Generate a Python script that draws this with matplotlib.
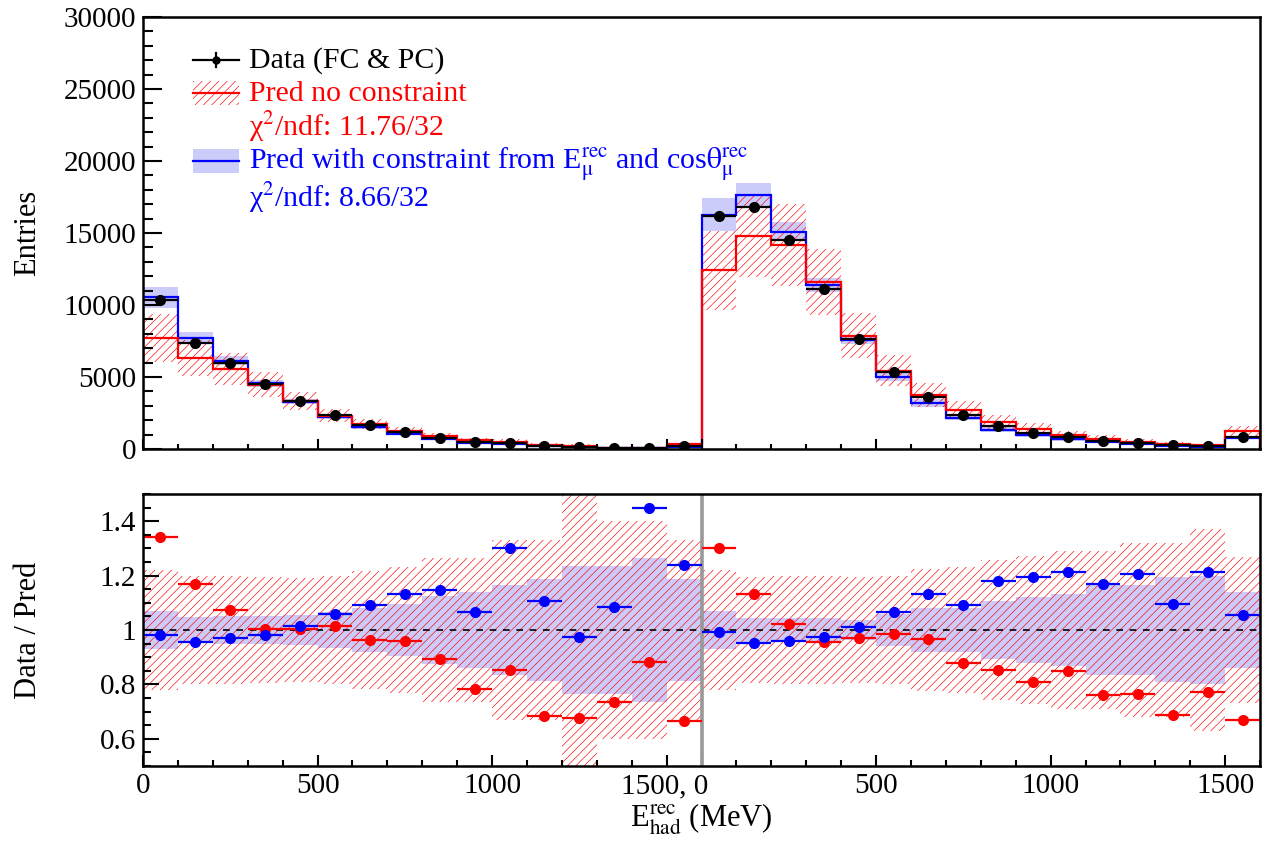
import numpy as np
import matplotlib
matplotlib.use("Agg")
from matplotlib import pyplot as plt
from matplotlib.patches import Rectangle
from matplotlib.lines import Line2D
from matplotlib.ticker import MultipleLocator, FixedLocator, FixedFormatter
import matplotlib.transforms as mtransforms

plt.rcParams['font.family'] = ['Liberation Serif', 'DejaVu Serif']
plt.rcParams['mathtext.fontset'] = 'stix'
plt.rcParams['hatch.linewidth'] = 0.45
plt.rcParams['hatch.color'] = 'red'

# 32 bins: two halves of 16 x 100 MeV
data = np.array([10350, 7380, 5950, 4490, 3330, 2360, 1670, 1180,
                 780, 480, 440, 210, 140, 60, 55, 210,
                 16180, 16800, 14500, 11100, 7640, 5350, 3620, 2360,
                 1600, 1130, 810, 555, 390, 250, 210, 830])

# data / pred, no constraint (red)
ratio_nc = np.array([1.342, 1.169, 1.074, 1.003, 1.005, 1.015, 0.963, 0.960,
                     0.892, 0.783, 0.853, 0.684, 0.676, 0.735, 0.881, 0.666,
                     1.303, 1.133, 1.022, 0.957, 0.970, 0.985, 0.966, 0.879,
                     0.853, 0.808, 0.849, 0.760, 0.765, 0.686, 0.772, 0.669])

# data / pred, with constraint (blue)
ratio_c = np.array([0.982, 0.955, 0.971, 0.982, 1.014, 1.059, 1.092, 1.132,
                    1.147, 1.066, 1.301, 1.107, 0.974, 1.086, 1.447, 1.239,
                    0.994, 0.952, 0.960, 0.975, 1.012, 1.066, 1.133, 1.092,
                    1.181, 1.195, 1.213, 1.169, 1.206, 1.096, 1.213, 1.056])

# relative uncertainty of predictions
relerr_nc = np.array([0.22, 0.20, 0.20, 0.195, 0.19, 0.20, 0.217, 0.23,
                      0.265, 0.265, 0.33, 0.33, 0.60, 0.40, 0.40, 0.33,
                      0.22, 0.195, 0.20, 0.20, 0.195, 0.20, 0.225, 0.233,
                      0.257, 0.272, 0.29, 0.29, 0.32, 0.32, 0.37, 0.27])
relerr_c = np.array([0.07, 0.048, 0.05, 0.053, 0.055, 0.067, 0.08, 0.095,
                     0.125, 0.14, 0.165, 0.187, 0.237, 0.237, 0.265, 0.187,
                     0.07, 0.045, 0.045, 0.045, 0.037, 0.06, 0.08, 0.08,
                     0.107, 0.12, 0.132, 0.165, 0.165, 0.193, 0.20, 0.14])

xtick_pos = [0, 5, 10, 15, 16, 21, 26, 31]
xtick_lab = ["0", "500", "1000", "", "1500, 0", "500", "1000", "1500"]

edges = np.arange(33)
centers = edges[:-1] + 0.5
pred_nc = data / ratio_nc
pred_c = data / ratio_c
lav = (0.80, 0.80, 0.98)

fig = plt.figure(figsize=(12.76, 8.42), dpi=100)
ax1 = fig.add_axes([0.1121, 0.4667, 0.8754, 0.5131])
ax2 = fig.add_axes([0.1121, 0.0903, 0.8754, 0.3230])

# ---- top panel
ax1.bar(centers, 2 * relerr_c * pred_c, bottom=pred_c * (1 - relerr_c), width=1,
        color=lav, linewidth=0)
ax1.bar(centers, 2 * relerr_nc * pred_nc, bottom=pred_nc * (1 - relerr_nc), width=1,
        facecolor='none', edgecolor='red', hatch='////', linewidth=0)
ax1.stairs(pred_c, edges, color='blue', lw=1.6, baseline=0)
ax1.stairs(pred_nc, edges, color='red', lw=1.6, baseline=0)
ax1.errorbar(centers, data, xerr=0.5, fmt='o', color='black', ms=7,
             elinewidth=1.6, capsize=0)
ax1.set_xlim(0, 32)
ax1.set_ylim(0, 30000)
ax1.set_ylabel("Entries", fontsize=22)
ax1.yaxis.set_label_coords(-0.09, 0.5)
ax1.yaxis.set_major_locator(MultipleLocator(5000))
ax1.yaxis.set_minor_locator(MultipleLocator(1000))
ax1.xaxis.set_major_locator(FixedLocator(xtick_pos))
ax1.xaxis.set_minor_locator(MultipleLocator(1))
ax1.set_xticklabels([])
ax1.tick_params(axis='y', which='major', length=14, width=1.5, direction='in', labelsize=21, pad=5)
ax1.tick_params(axis='y', which='minor', length=7, width=1.5, direction='in')
ax1.tick_params(axis='x', which='major', length=7, width=1.5, direction='in')
ax1.tick_params(axis='x', which='minor', length=3.5, width=1.5, direction='in')

# legend (symbols centred on rows, text on baselines)
tr = ax1.transAxes
x0, x1, xt = 0.0448, 0.0859, 0.0949
rows = [0.9005, 0.8234, 0.743, 0.6675, 0.578]
base_off = 0.018
bh = 0.056
ax1.add_line(Line2D([x0, x1], [rows[0]] * 2, color='black', lw=1.6, transform=tr))
ax1.add_line(Line2D([(x0 + x1) / 2] * 2, [rows[0] - 0.016, rows[0] + 0.016],
                    color='black', lw=1.6, transform=tr))
ax1.plot([(x0 + x1) / 2], [rows[0]], 'o', color='black', ms=5, transform=tr)
ax1.add_patch(Rectangle((x0, rows[1] - bh / 2), x1 - x0, bh, transform=tr,
                        facecolor='none', edgecolor='red', hatch='////', lw=0))
ax1.add_line(Line2D([x0, x1], [rows[1]] * 2, color='red', lw=1.6, transform=tr))
ax1.add_patch(Rectangle((x0, rows[3] - bh / 2), x1 - x0, bh, transform=tr,
                        facecolor=lav, lw=0))
ax1.add_line(Line2D([x0, x1], [rows[3]] * 2, color='blue', lw=1.6, transform=tr))
fs = 21.5
legend_txt = ["Data (FC & PC)",
              "Pred no constraint",
              "χ$^{2}$/ndf: 11.76/32",
              r"Pred with constraint from E$_{\mathrm{\mu}}^{\mathrm{rec}}$ and cos$\mathrm{\theta}_{\mathrm{\mu}}^{\mathrm{rec}}$",
              "χ$^{2}$/ndf: 8.66/32"]
legend_col = ['black', 'red', 'red', 'blue', 'blue']
for r, t, c in zip(rows, legend_txt, legend_col):
    ax1.text(xt, r - base_off, t, color=c, fontsize=fs, va='baseline', transform=tr)

# ---- bottom panel
ax2.bar(centers, 2 * relerr_c, bottom=1 - relerr_c, width=1, color=lav, linewidth=0)
ax2.bar(centers, 2 * relerr_nc, bottom=1 - relerr_nc, width=1,
        facecolor='none', edgecolor='red', hatch='////', linewidth=0)
ax2.plot([0, 32], [1, 1], color='black', lw=1.2, ls=(0, (4, 4)))
ax2.axvline(16, color='#999999', lw=2.6)
ax2.errorbar(centers, ratio_nc, xerr=0.5, fmt='o', color='red', ms=7,
             elinewidth=1.6, capsize=0)
ax2.errorbar(centers, ratio_c, xerr=0.5, fmt='o', color='blue', ms=7,
             elinewidth=1.6, capsize=0)
ax2.set_xlim(0, 32)
ax2.set_ylim(0.5, 1.5)
ax2.set_ylabel("Data / Pred", fontsize=22)
ax2.yaxis.set_label_coords(-0.09, 0.5)
ax2.set_xlabel(r"E$_{\mathrm{had}}^{\mathrm{rec}}$ (MeV)", fontsize=22)
ax2.xaxis.set_label_coords(0.5, -0.13)
ax2.yaxis.set_major_locator(FixedLocator([0.6, 0.8, 1.0, 1.2, 1.4]))
ax2.yaxis.set_major_formatter(FixedFormatter(["0.6", "0.8", "1", "1.2", "1.4"]))
ax2.yaxis.set_minor_locator(MultipleLocator(0.05))
ax2.xaxis.set_major_locator(FixedLocator(xtick_pos))
ax2.xaxis.set_major_formatter(FixedFormatter(xtick_lab))
ax2.xaxis.set_minor_locator(MultipleLocator(1))
ax2.tick_params(axis='y', which='major', length=11.5, width=1.5, direction='in', labelsize=21, pad=5)
ax2.tick_params(axis='y', which='minor', length=5.8, width=1.5, direction='in')
ax2.tick_params(axis='x', which='major', length=8, width=1.5, direction='in', labelsize=21, pad=5)
ax2.tick_params(axis='x', which='minor', length=4.3, width=1.5, direction='in')

# "1500, 0" label: right aligned so the "0" sits on the boundary
lab = ax2.get_xticklabels()[4]
lab.set_horizontalalignment('right')
lab.set_transform(lab.get_transform() + mtransforms.ScaledTranslation(0.07, 0, fig.dpi_scale_trans))

for ax in (ax1, ax2):
    for s in ax.spines.values():
        s.set_linewidth(1.8)

fig.savefig("out.png", dpi=100)
